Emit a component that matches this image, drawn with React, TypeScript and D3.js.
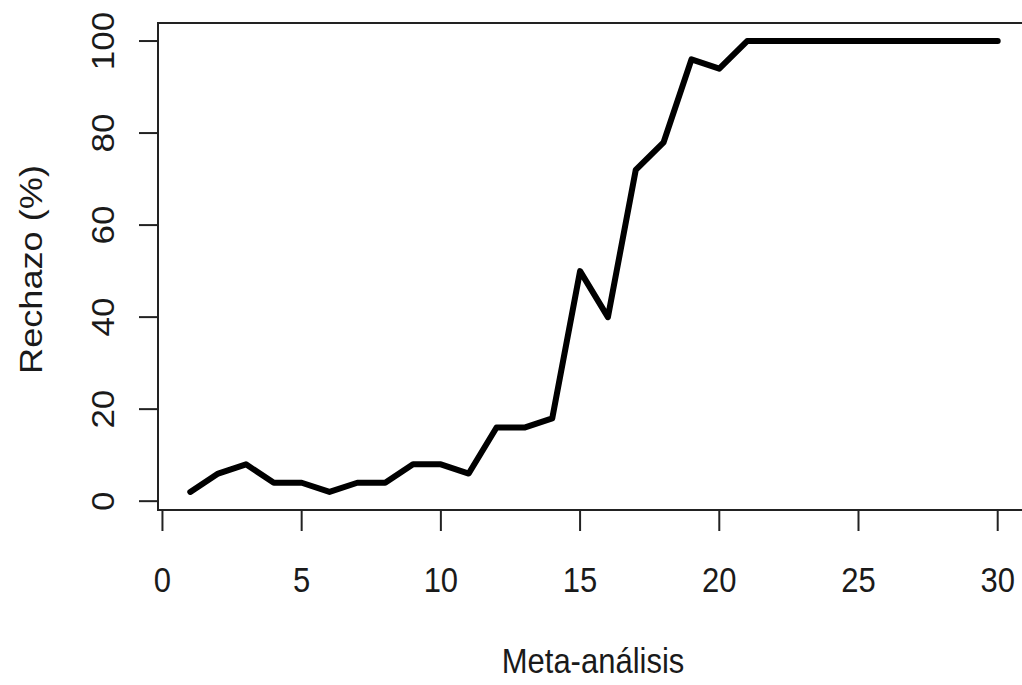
import React from "react";
import * as d3 from "d3";

const metaIndex: number[] = [1,2,3,4,5,6,7,8,9,10,11,12,13,14,15,16,17,18,19,20,21,22,23,24,25,26,27,28,29,30];
const rejection: number[] = [2,6,8,4,4,2,4,4,8,8,6,16,16,18,50,40,72,78,96,94,100,100,100,100,100,100,100,100,100,100];
const xTicks: number[] = [0,5,10,15,20,25,30];
const yTicks: number[] = [0,20,40,60,80,100];
const xTitle = "Meta-análisis";
const yTitle = "Rechazo (%)";

export default function App() {
  const W = 1022, H = 685;
  const left = 158, right = 1030, top = 23, bottom = 510;
  const xMin = d3.min(metaIndex)!, xMax = d3.max(metaIndex)!;
  const yMin = d3.min(rejection)!, yMax = d3.max(rejection)!;
  const xPad = (xMax - xMin) * 0.04, yPad = (yMax - yMin) * 0.04;
  const x = d3.scaleLinear().domain([xMin - xPad, xMax + xPad]).range([left, right]);
  const y = d3.scaleLinear().domain([yMin - yPad, yMax + yPad]).range([bottom, top]);
  const line = d3.line<number>().x((_, i) => x(metaIndex[i])).y((d) => y(d));
  const font = "'Liberation Sans', Arial, sans-serif";
  const txt = "#1a1a1a";
  const ax = "#222";
  const sy = 1.13;
  return (
    <div style={{ position: "absolute", left: 0, top: 0 }}>
      <svg width={W} height={H} style={{ display: "block", background: "#fff" }}>
        <rect x={left} y={top} width={right - left} height={bottom - top} fill="none" stroke={ax} strokeWidth={2} />
        <path d={line(rejection) || ""} fill="none" stroke="#000" strokeWidth={6} strokeLinejoin="round" strokeLinecap="round" />
        {/* x axis */}
        <line x1={x(xTicks[0])} x2={x(xTicks[xTicks.length - 1])} y1={bottom} y2={bottom} stroke={ax} strokeWidth={2} />
        {xTicks.map((t) => (
          <g key={"x" + t}>
            <line x1={x(t)} x2={x(t)} y1={bottom} y2={bottom + 21} stroke={ax} strokeWidth={2} />
            <text transform={`translate(${x(t)},592) scale(1,${sy})`} textAnchor="middle" fontFamily={font} fontSize={31} fill={txt}>{t}</text>
          </g>
        ))}
        {/* y axis */}
        <line x1={left} x2={left} y1={y(yTicks[0])} y2={y(yTicks[yTicks.length - 1])} stroke={ax} strokeWidth={2} />
        {yTicks.map((t) => (
          <g key={"y" + t}>
            <line x1={left} x2={left - 19} y1={y(t)} y2={y(t)} stroke={ax} strokeWidth={2} />
            <text transform={`translate(114,${y(t)}) scale(1,${sy}) rotate(-90)`} textAnchor="middle" fontFamily={font} fontSize={31} fill={txt}>{t}</text>
          </g>
        ))}
        <text transform={`translate(593,673) scale(1,${sy})`} textAnchor="middle" fontFamily={font} fontSize={31} fill={txt}>{xTitle}</text>
        <text transform={`translate(42,${(top + bottom) / 2 + 3}) scale(1,${sy}) rotate(-90)`} textAnchor="middle" fontFamily={font} fontSize={32} fill={txt}>{yTitle}</text>
      </svg>
    </div>
  );
}
